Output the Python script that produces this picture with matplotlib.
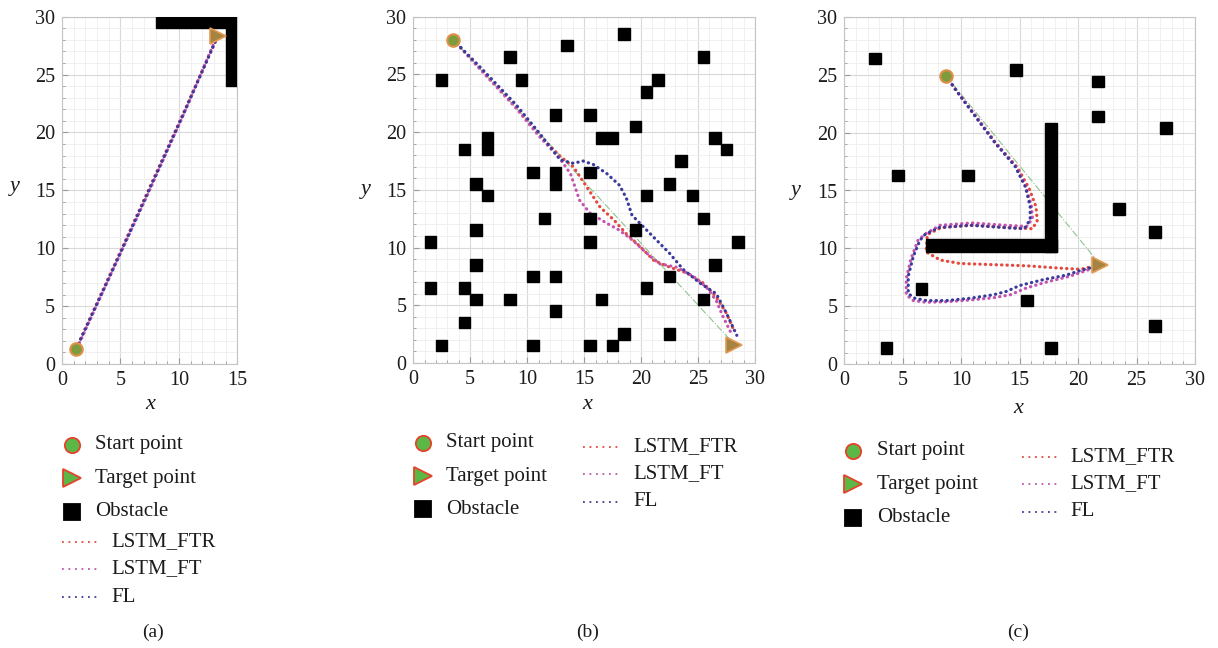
import matplotlib
matplotlib.use('Agg')
import matplotlib.pyplot as plt
from matplotlib.patches import Rectangle
from matplotlib.lines import Line2D
from matplotlib.ticker import MultipleLocator

plt.rcParams['font.family'] = ['Liberation Serif', 'DejaVu Serif']

# ---- данные панели (a) ----
start_a = (1.2, 1.3)
target_a = (13.3, 28.3)
walls_a = [(8, 29, 7, 1), (14, 24, 1, 6)]  # x, y, ширина, высота
ftr_a_x = [1.2, 4.0, 7.2, 10.3, 13.3]
ftr_a_y = [1.3, 7.5, 14.6, 21.5, 28.3]
ft_a_x = [1.3, 4.1, 7.3, 10.4, 13.2]
ft_a_y = [1.4, 7.6, 14.6, 21.6, 28.2]
fl_a_x = [1.2, 4.0, 7.2, 10.3, 13.3]
fl_a_y = [1.3, 7.4, 14.5, 21.4, 28.3]

# ---- данные панели (b) ----
start_b = (3.5, 28.0)
target_b = (28.2, 1.6)
obs_b_x = [2.5, 8.5, 9.5, 13.5, 18.5, 25.5, 21.5, 20.5, 12.5, 15.5, 19.5, 16.5, 17.5, 26.5,
           27.5, 4.5, 6.5, 6.5, 23.5, 10.5, 12.5, 12.5, 15.5, 5.5, 6.5, 22.5, 20.5, 24.5,
           11.5, 15.5, 25.5, 5.5, 19.5, 1.5, 15.5, 28.5, 5.5, 26.5, 10.5, 12.5, 22.5, 1.5,
           4.5, 20.5, 5.5, 8.5, 16.5, 25.5, 12.5, 4.5, 18.5, 22.5, 2.5, 10.5, 15.5, 17.5]
obs_b_y = [24.5, 26.5, 24.5, 27.5, 28.5, 26.5, 24.5, 23.5, 21.5, 21.5, 20.5, 19.5, 19.5, 19.5,
           18.5, 18.5, 19.5, 18.5, 17.5, 16.5, 16.5, 15.5, 16.5, 15.5, 14.5, 15.5, 14.5, 14.5,
           12.5, 12.5, 12.5, 11.5, 11.5, 10.5, 10.5, 10.5, 8.5, 8.5, 7.5, 7.5, 7.5, 6.5,
           6.5, 6.5, 5.5, 5.5, 5.5, 5.5, 4.5, 3.5, 2.5, 2.5, 1.5, 1.5, 1.5, 1.5]
ftr_b_x = [3.5, 6.0, 9.0, 11.0, 12.9, 14.05, 15.2, 16.4, 17.6, 18.7, 19.9, 21.1, 22.5, 24.0,
           25.5, 26.6, 27.5, 28.2]
ftr_b_y = [28.0, 25.4, 22.2, 19.8, 17.9, 17.0, 15.3, 13.5, 12.4, 11.2, 10.1, 8.9, 8.3, 7.8,
           6.9, 5.7, 4.3, 2.7]
ft_b_x = [3.5, 6.0, 9.0, 11.0, 12.8, 13.8, 14.6, 15.5, 17.0, 18.1, 19.3, 20.5, 21.6, 23.1,
          24.6, 25.7, 26.6, 27.2, 27.9]
ft_b_y = [28.0, 25.3, 22.1, 19.7, 17.8, 16.4, 14.1, 13.0, 12.1, 11.5, 10.6, 9.5, 8.6, 8.3,
          7.5, 6.6, 5.4, 4.0, 2.6]
fl_b_x = [3.5, 6.0, 9.0, 11.0, 12.9, 14.05, 14.9, 15.8, 17.0, 18.1, 18.7, 19.2, 20.2, 21.4,
          22.5, 23.7, 25.2, 26.6, 27.5, 28.4]
fl_b_y = [28.0, 25.5, 22.4, 20.0, 17.6, 17.3, 17.5, 17.2, 16.4, 15.4, 14.3, 12.8, 11.8, 10.6,
          9.5, 8.1, 6.9, 6.0, 4.3, 2.4]

# ---- данные панели (c) ----
start_c = (8.7, 24.9)
target_c = (21.9, 8.6)
obs_c_x = [2.6, 14.7, 21.7, 21.7, 27.5, 4.6, 10.6, 23.5, 26.6, 6.6, 15.6, 26.6, 3.6, 17.7]
obs_c_y = [26.4, 25.4, 24.4, 21.4, 20.4, 16.3, 16.3, 13.4, 11.4, 6.5, 5.5, 3.3, 1.4, 1.4]
walls_c = [(7.0, 9.7, 11.2, 1.1), (17.2, 9.7, 1.0, 11.15)]
ftr_c_x = [8.7, 9.6, 11.3, 13.0, 14.8, 15.8, 16.4, 16.5, 16.1, 13.9, 11.0, 8.3, 7.1, 7.0,
           8.2, 9.9, 12.75, 15.6, 18.45, 20.2, 21.9]
ftr_c_y = [24.9, 23.6, 21.3, 19.0, 17.0, 15.2, 13.6, 12.4, 11.7, 11.8, 12.0, 11.8, 11.2, 9.7,
           9.0, 8.7, 8.6, 8.5, 8.3, 8.2, 8.6]
ft_c_x = [8.7, 9.5, 11.2, 12.9, 14.6, 15.5, 16.0, 16.1, 15.6, 13.8, 10.9, 8.2, 7.0, 6.3,
          5.7, 5.3, 5.3, 5.9, 7.0, 8.8, 10.8, 12.8, 14.2, 15.6, 17.3, 19.3, 21.0, 21.9]
ft_c_y = [24.9, 23.7, 21.5, 19.2, 17.2, 15.4, 13.7, 12.6, 11.9, 12.0, 12.2, 12.0, 11.3, 10.7,
          9.1, 7.4, 6.0, 5.5, 5.35, 5.4, 5.55, 5.75, 6.0, 6.6, 7.1, 7.6, 8.2, 8.55]
fl_c_x = [8.7, 9.6, 11.2, 12.9, 14.6, 15.5, 15.9, 15.9, 15.4, 13.7, 10.8, 8.1, 6.9, 6.47,
          5.9, 5.47, 5.47, 6.04, 7.04, 8.75, 10.75, 12.75, 13.9, 15.0, 17.0, 19.0, 20.2, 21.9]
fl_c_y = [24.9, 23.6, 21.4, 19.1, 17.1, 15.3, 13.6, 12.5, 11.7, 11.8, 12.0, 11.8, 11.2, 10.7,
          9.3, 7.6, 6.1, 5.7, 5.5, 5.5, 5.7, 6.0, 6.3, 6.8, 7.3, 7.7, 8.1, 8.55]

W, H = 1218, 648
RED = '#e5483c'
MAG = '#c354b0'
BLUE = '#3a3a9c'
TXT = '#1c1c1c'


def add_ax(fig, left, right, top, bottom):
    return fig.add_axes([left / W, 1 - bottom / H, (right - left) / W, (bottom - top) / H])


def style_ax(ax, xmax):
    ax.set_xlim(0, xmax)
    ax.set_ylim(0, 30)
    ax.xaxis.set_major_locator(MultipleLocator(5))
    ax.yaxis.set_major_locator(MultipleLocator(5))
    ax.xaxis.set_minor_locator(MultipleLocator(1))
    ax.yaxis.set_minor_locator(MultipleLocator(1))
    ax.grid(which='major', color='#d9d9d9', lw=0.8)
    ax.grid(which='minor', color='#eeeeee', lw=0.6)
    ax.set_axisbelow(True)
    ax.tick_params(which='both', direction='in', color='#9a9a9a', labelsize=14.5,
                   labelcolor=TXT, pad=5)
    ax.tick_params(which='major', length=4)
    ax.tick_params(which='minor', length=2.5)
    for sp in ax.spines.values():
        sp.set_color('#c4c4c4')
        sp.set_linewidth(0.8)
    ax.set_xlabel('x', style='italic', fontsize=16, color=TXT)
    ax.set_ylabel('y', style='italic', fontsize=16, rotation=0, color=TXT)
    ax.xaxis.label.set_va('center')
    ax.yaxis.label.set_va('center')


def draw_paths(ax, ftr, ft, fl):
    kw = dict(lw=2.3, ls=(0, (0.1, 1.6)), dash_capstyle='round')
    ax.plot(ftr[0], ftr[1], color=RED, **kw)
    ax.plot(ft[0], ft[1], color=MAG, **kw)
    ax.plot(fl[0], fl[1], color=BLUE, **kw)


def draw_ends(ax, start, target):
    ax.plot(*start, 'o', ms=9, mfc='#7e9c3e', mec='#e0904a', mew=1.5, zorder=5)
    ax.plot(*target, '>', ms=11, mfc='#a58343', mec='#e39a52', mew=1.2, zorder=5)


def fig_legend(fig, x_mark, x_text, rows_mark, x_line0, x_line1, x_ltext, rows_line):
    tr = fig.transFigure
    marks = [('o', '#5cb846', 11, 'Start point'),
             ('>', '#5cb846', 13, 'Target point'),
             ('s', 'black', 12, 'Obstacle')]
    for (m, fc, ms, lab), yy in zip(marks, rows_mark):
        ec = '#e8412c' if m != 's' else 'black'
        fig.add_artist(Line2D([x_mark / W], [1 - yy / H], marker=m, ms=ms, mfc=fc, mec=ec,
                              mew=1.3, ls='none', transform=tr))
        fig.text(x_text / W, 1 - yy / H, lab, fontsize=15, va='center', color=TXT)
    for (col, lab), yy in zip([(RED, 'LSTM_FTR'), (MAG, 'LSTM_FT'), (BLUE, 'FL')], rows_line):
        fig.add_artist(Line2D([x_line0 / W, x_line1 / W], [1 - yy / H] * 2, color=col,
                              lw=1.3, ls=(0, (1, 2.6)), transform=tr))
        fig.text(x_ltext / W, 1 - yy / H, lab, fontsize=15, va='center', color=TXT)


fig = plt.figure(figsize=(W / 100, H / 100), dpi=100)

# (a)
ax_a = add_ax(fig, 62, 237.5, 16.7, 364)
style_ax(ax_a, 15)
for (x, y, w, h) in walls_a:
    ax_a.add_patch(Rectangle((x, y), w, h, color='black', zorder=3))
draw_paths(ax_a, (ftr_a_x, ftr_a_y), (ft_a_x, ft_a_y), (fl_a_x, fl_a_y))
draw_ends(ax_a, start_a, target_a)
ax_a.xaxis.set_label_coords(0.5, -0.118)
ax_a.yaxis.set_label_coords(-0.268, 0.51)

# (b)
ax_b = add_ax(fig, 413.3, 755, 16.7, 363)
style_ax(ax_b, 30)
for x, y in zip(obs_b_x, obs_b_y):
    ax_b.add_patch(Rectangle((x - 0.5, y - 0.5), 1, 1, color='black', zorder=3))
ax_b.plot([start_b[0], target_b[0]], [start_b[1], target_b[1]], color='#8fc48f', lw=0.8,
          ls='-.', zorder=2)
draw_paths(ax_b, (ftr_b_x, ftr_b_y), (ft_b_x, ft_b_y), (fl_b_x, fl_b_y))
draw_ends(ax_b, start_b, target_b)
ax_b.xaxis.set_label_coords(0.508, -0.12)
ax_b.yaxis.set_label_coords(-0.138, 0.5)

# (c)
ax_c = add_ax(fig, 844.3, 1195, 16.7, 364.3)
style_ax(ax_c, 30)
for x, y in zip(obs_c_x, obs_c_y):
    ax_c.add_patch(Rectangle((x - 0.5, y - 0.5), 1, 1, color='black', zorder=3))
for (x, y, w, h) in walls_c:
    ax_c.add_patch(Rectangle((x, y), w, h, color='black', zorder=3))
ax_c.plot([start_c[0], target_c[0]], [start_c[1], target_c[1]], color='#8fc48f', lw=0.8,
          ls='-.', zorder=2)
draw_paths(ax_c, (ftr_c_x, ftr_c_y), (ft_c_x, ft_c_y), (fl_c_x, fl_c_y))
draw_ends(ax_c, start_c, target_c)
ax_c.xaxis.set_label_coords(0.495, -0.128)
ax_c.yaxis.set_label_coords(-0.138, 0.5)

# легенды
fig_legend(fig, 72, 95, [445, 478, 512], 62, 97, 111, [542, 569, 597])
fig_legend(fig, 423, 446, [443, 476, 509], 583, 620, 633, [447, 474, 502])
fig_legend(fig, 853, 877, [451, 484, 518], 1022, 1057, 1070, [457, 484, 512])

# подписи панелей
for lab, xx in [('(a)', 153), ('(b)', 588), ('(c)', 1018)]:
    fig.text(xx / W, 1 - 632 / H, lab, fontsize=14, ha='center', va='center', color=TXT)

fig.savefig('out.png', dpi=100)
